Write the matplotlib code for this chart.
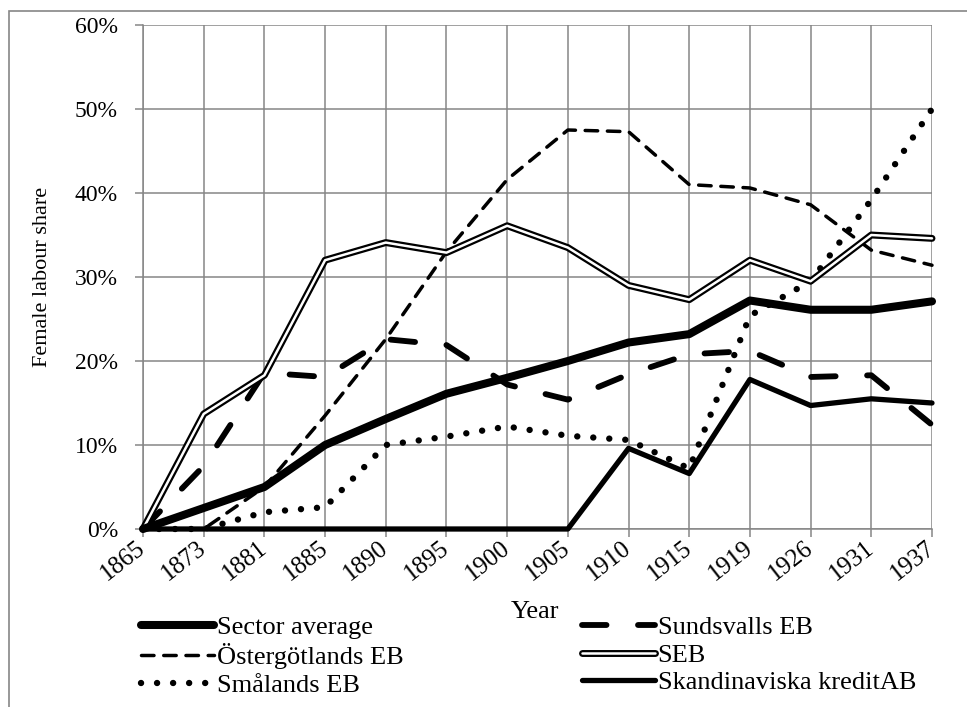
import matplotlib
matplotlib.use("Agg")
import matplotlib.pyplot as plt
import matplotlib.patheffects as pe
from matplotlib.ticker import PercentFormatter
import matplotlib.patches as patches

plt.rcParams['font.family'] = ['Liberation Serif', 'DejaVu Serif']
plt.rcParams['font.size'] = 19

# data
years = ['1865', '1873', '1881', '1885', '1890', '1895', '1900',
         '1905', '1910', '1915', '1919', '1926', '1931', '1937']
sector_avg = [0, 2.5, 5.0, 10.0, 13.1, 16.1, 18.0, 20.0, 22.2, 23.2, 27.2, 26.1, 26.1, 27.1]
ostergotland = [0, 0, 5.0, 13.5, 22.6, 33.0, 41.6, 47.5, 47.3, 41.0, 40.6, 38.6, 33.2, 31.4]
smaland = [0, 0, 2.0, 2.6, 10.0, 11.0, 12.2, 11.1, 10.6, 7.2, 25.4, 29.5, 39.2, 50.0]
sundsvall = [0, 7.5, 18.6, 18.1, 22.6, 21.9, 17.2, 15.4, 18.4, 20.8, 21.2, 18.1, 18.3, 12.4]
seb = [0, 13.7, 18.3, 32.0, 34.1, 32.9, 36.1, 33.5, 29.0, 27.3, 32.0, 29.5, 35.0, 34.6]
skandinaviska = [0, 0, 0, 0, 0, 0, 0, 0, 9.6, 6.6, 17.8, 14.7, 15.5, 15.0]

x = list(range(len(years)))
def frac(v):
    return [a / 100 for a in v]

fig = plt.figure(figsize=(9.67, 7.07), dpi=100)
W, H = 967, 707
ax = fig.add_axes([143 / W, 1 - 529 / H, (932 - 143) / W, (529 - 25) / H])

# chart area border
fig.patches.append(patches.Rectangle((9 / W, -0.01), 1.0, 1 - 11 / H + 0.01,
                                     transform=fig.transFigure, fill=False,
                                     edgecolor='#868686', linewidth=1.2))

l_sa, = ax.plot(x, frac(sector_avg), color='black', lw=5.8, solid_capstyle='round',
                solid_joinstyle='round', label='Sector average', zorder=5, clip_on=False)
l_os, = ax.plot(x, frac(ostergotland), color='black', lw=2.5, dashes=(3.6, 2.8),
                dash_capstyle='round', label='Östergötlands EB', zorder=4, clip_on=False)
l_sm, = ax.plot(x, frac(smaland), color='black', lw=4.6, dashes=(0.01, 2.5),
                dash_capstyle='round', label='Smålands EB', zorder=4, clip_on=False)
l_su, = ax.plot(x, frac(sundsvall), color='black', lw=4.2, dashes=(4.2, 5.4),
                dash_capstyle='round', label='Sundsvalls EB', zorder=4, clip_on=False)
l_se, = ax.plot(x, frac(seb), color='white', lw=1.8, solid_capstyle='round',
                path_effects=[pe.Stroke(linewidth=5.0, foreground='black'), pe.Normal()],
                label='SEB', zorder=4, clip_on=False)
l_sk, = ax.plot(x, frac(skandinaviska), color='black', lw=3.8, solid_capstyle='round',
                label='Skandinaviska kreditAB', zorder=4, clip_on=False)

ax.set_xlim(0, len(years) - 1)
ax.set_ylim(0, 0.6)
ax.set_xticks(x)
ax.set_xticklabels(years, rotation=38, ha='right', va='center',
                   rotation_mode='anchor', fontsize=18)
ax.set_yticks([0, 0.1, 0.2, 0.3, 0.4, 0.5, 0.6])
ax.yaxis.set_major_formatter(PercentFormatter(1.0, decimals=0))
for t in ax.get_yticklabels():
    t.set_fontsize(17)
ax.grid(True, color='#868686', lw=1.1)
ax.set_axisbelow(True)
for s in ['top', 'right']:
    ax.spines[s].set_visible(False)
for s in ['left', 'bottom']:
    ax.spines[s].set_color('#868686')
    ax.spines[s].set_linewidth(1.1)
ax.tick_params(axis='y', length=6, color='#868686', width=1.1, pad=12)
ax.tick_params(axis='x', length=6, color='#868686', width=1.1, pad=6)

fig.text(535 / W, 1 - 612 / H, 'Year', ha='center', va='center', fontsize=19)
ax.set_ylabel('Female labour share', fontsize=16)
ax.yaxis.set_label_coords((52 - 143) / (932 - 143), 0.5)

leg_kw = dict(loc='upper left', frameon=False, borderpad=0, borderaxespad=0,
              handlelength=2.75, handletextpad=0.12, labelspacing=0.15)
fig.legend(handles=[l_sa, l_os, l_sm], bbox_to_anchor=(141 / W, 1 - 616 / H), **leg_kw)
fig.legend(handles=[l_su, l_se, l_sk], bbox_to_anchor=(582 / W, 1 - 616 / H), **leg_kw)

fig.savefig('out.png', dpi=100)
